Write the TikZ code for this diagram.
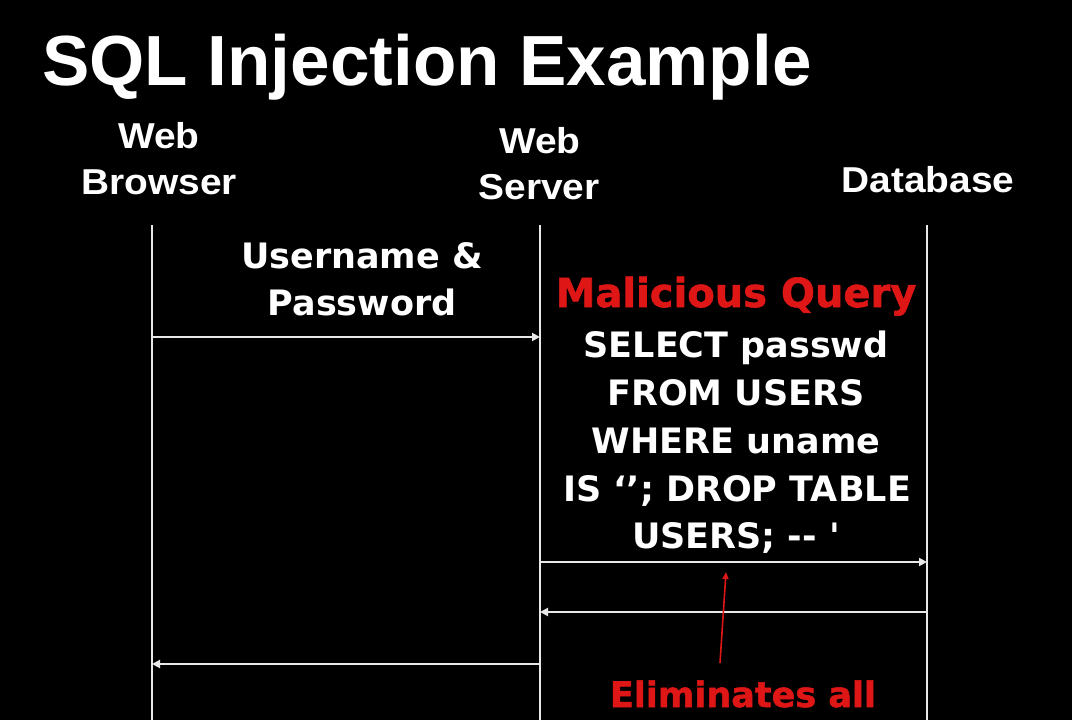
\documentclass[tikz,border=0pt]{standalone}
\usepackage{fontspec}
\usetikzlibrary{arrows.meta}
\newfontfamily\hdfont{Liberation Sans}
\newfontfamily\bdfont{DejaVu Sans}
\newfontfamily\rdfont{DejaVu Sans}[BoldFeatures={FakeBold=1.5}]
\definecolor{lline}{RGB}{232,232,232}
\definecolor{qred}{RGB}{222,22,22}
\tikzset{
  ttl/.style={text=white, inner sep=0pt, anchor=base west, font=\hdfont\bfseries\fontsize{71}{80}\selectfont},
  hd/.style={text=white, inner sep=0pt, anchor=base, xscale=1.08, font=\hdfont\bfseries\fontsize{36}{46}\selectfont},
  bd/.style={text=white, inner sep=0pt, anchor=base, font=\bdfont\bfseries\fontsize{35}{48}\selectfont},
  rd/.style={text=qred, inner sep=0pt, anchor=base, font=\rdfont\bfseries\fontsize{40}{48}\selectfont},
  life/.style={draw=lline, line width=2.4pt},
  msg/.style={draw=lline, line width=2.4pt, -{Triangle[length=8pt,width=8pt]}},
  redarrow/.style={draw=qred, line width=1.6pt, -{Triangle[length=7pt,width=6pt]}}
}
\begin{document}
\begin{tikzpicture}[x=1pt,y=-1pt]
\fill[black] (0,0) rectangle (1072,720);
\useasboundingbox (0,0) rectangle (1072,720);
% title
\node[ttl] (title) at (42,85) {SQL Injection Example};
% headings
\node[hd] (wb1) at (159,148) {Web};
\node[hd] (wb2) at (159,194) {Browser};
\node[hd] (ws1) at (540,153) {Web};
\node[hd] (ws2) at (539,199) {Server};
\node[hd] (db) at (928,192) {Database};
% lifelines
\coordinate (bt) at (152,225); \coordinate (bb) at (152,720);
\coordinate (st) at (540,225); \coordinate (sb) at (540,720);
\coordinate (dt) at (927,225); \coordinate (dbb) at (927,720);
\draw[life] (bt) -- (bb);
\draw[life] (st) -- (sb);
\draw[life] (dt) -- (dbb);
% message labels
\node[bd] (up1) at (362,268) {Username \&};
\node[bd] (up2) at (362,315) {Password};
\node[rd] (mq) at (736,307) {Malicious Query};
\node[bd] (q1) at (736,357) {SELECT passwd};
\node[bd] (q2) at (736,405) {FROM USERS};
\node[bd] (q3) at (736,453) {WHERE uname};
\node[bd] (q4) at (737,501) {IS ‘’; DROP TABLE};
\node[bd] (q5) at (736,548) {USERS; -{}- \textquotesingle};
\node[rd, font=\rdfont\bfseries\fontsize{35}{48}\selectfont] (elim) at (743,707) {Eliminates all};
% messages
\coordinate (m1a) at (152,337); \coordinate (m1b) at (540,337);
\coordinate (m2a) at (540,562); \coordinate (m2b) at (927,562);
\coordinate (m3a) at (927,612); \coordinate (m3b) at (540,612);
\coordinate (m4a) at (540,664); \coordinate (m4b) at (152,664);
\draw[msg] (m1a) -- (m1b);
\draw[msg] (m2a) -- (m2b);
\draw[msg] (m3a) -- (m3b);
\draw[msg] (m4a) -- (m4b);
% red pointer
\coordinate (ra) at (720,663); \coordinate (rb) at (726,572);
\draw[redarrow] (ra) -- (rb);
\end{tikzpicture}
\end{document}
